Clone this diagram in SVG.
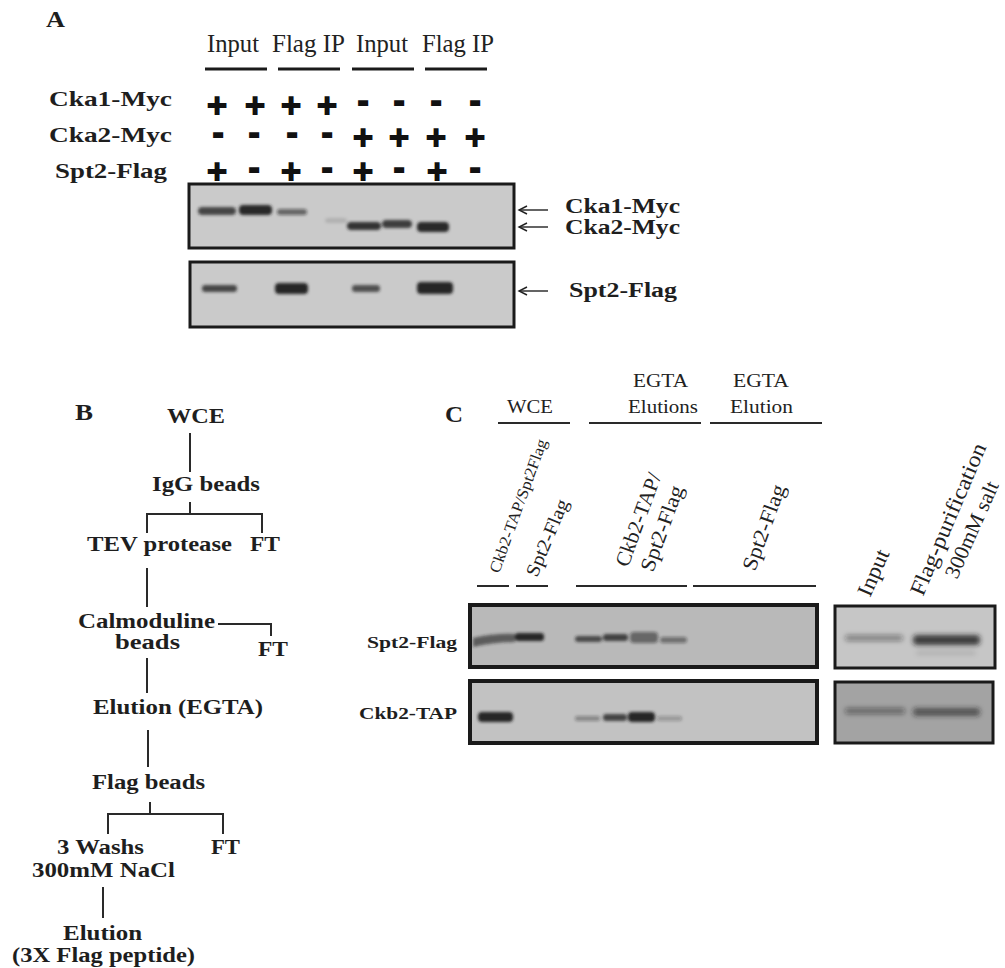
<svg xmlns="http://www.w3.org/2000/svg" width="1005" height="968" viewBox="0 0 1005 968">
<defs>
<style>
.bt{font-family:"Liberation Serif","Times New Roman",serif;font-weight:bold;fill:#1e1e1e}
.rt{font-family:"Liberation Serif","Times New Roman",serif;fill:#222}
.pm{font-family:"DejaVu Sans","Liberation Sans",sans-serif;font-weight:bold;font-size:27px;fill:#111;stroke:#111;stroke-width:1.8;text-anchor:middle}
.ln{stroke:#2a2a2a;stroke-width:2;fill:none}
.ul{stroke:#1a1a1a;stroke-width:3;fill:none}
.box{stroke:#1a1a1a;fill:none}
.band{fill:#1a1a1a}
</style>
<filter id="bl" x="-30%" y="-100%" width="160%" height="300%"><feGaussianBlur stdDeviation="1.6"/></filter>
<filter id="bl2" x="-30%" y="-100%" width="160%" height="300%"><feGaussianBlur stdDeviation="2.6"/></filter>
<marker id="ah" viewBox="-10 -6 12 12" refX="0" refY="0" markerWidth="12" markerHeight="12" markerUnits="userSpaceOnUse" orient="auto">
<path d="M-8,-4 L0,0 L-8,4" fill="none" stroke="#222" stroke-width="1.4"/>
</marker>
</defs>
<rect width="1005" height="968" fill="#ffffff"/>

<!-- PANEL A -->
<g id="panelA">
<text class="bt" x="46" y="27" font-size="24" textLength="19" lengthAdjust="spacingAndGlyphs">A</text>
<g id="A-headers">
<text class="rt" x="207" y="52" font-size="26" textLength="52" lengthAdjust="spacingAndGlyphs">Input</text>
<text class="rt" x="272" y="52" font-size="26" textLength="73" lengthAdjust="spacingAndGlyphs">Flag IP</text>
<text class="rt" x="356" y="52" font-size="26" textLength="52" lengthAdjust="spacingAndGlyphs">Input</text>
<text class="rt" x="422" y="52" font-size="26" textLength="72" lengthAdjust="spacingAndGlyphs">Flag IP</text>
<path class="ul" d="M205,69H267M278,69H340M352,69H414M425,69H487"/>
</g>
<g id="A-rowlabels">
<text class="bt" x="49" y="106" font-size="22" textLength="123" lengthAdjust="spacingAndGlyphs">Cka1-Myc</text>
<text class="bt" x="49" y="142" font-size="22" textLength="123" lengthAdjust="spacingAndGlyphs">Cka2-Myc</text>
<text class="bt" x="55" y="178" font-size="22" textLength="112" lengthAdjust="spacingAndGlyphs">Spt2-Flag</text>
</g>
<g id="A-signs">
<text class="pm" x="217" y="114">+</text><text class="pm" x="255" y="114">+</text><text class="pm" x="291" y="114">+</text><text class="pm" x="327" y="114">+</text>
<text class="pm" x="363" y="110.5">-</text><text class="pm" x="399" y="110.5">-</text><text class="pm" x="436" y="110.5">-</text><text class="pm" x="475" y="110.5">-</text>
<text class="pm" x="218" y="143">-</text><text class="pm" x="254" y="143">-</text><text class="pm" x="292" y="143">-</text><text class="pm" x="327" y="143">-</text>
<text class="pm" x="363" y="146">+</text><text class="pm" x="399" y="146">+</text><text class="pm" x="436" y="146">+</text><text class="pm" x="475" y="146">+</text>
<text class="pm" x="217" y="180">+</text><text class="pm" x="254" y="177.5">-</text><text class="pm" x="291" y="180">+</text><text class="pm" x="327" y="177.5">-</text>
<text class="pm" x="363" y="180">+</text><text class="pm" x="399" y="177.5">-</text><text class="pm" x="437" y="180">+</text><text class="pm" x="475" y="177.5">-</text>
</g>
<g id="A-blot1">
<rect x="189" y="184" width="325" height="64" fill="#cacaca"/>
<g filter="url(#bl)">
<rect class="band" x="198" y="207" width="38" height="8" rx="4" opacity="0.75"/>
<rect class="band" x="239" y="205" width="33" height="10" rx="4" opacity="0.9"/>
<rect class="band" x="277" y="209" width="30" height="6" rx="3" opacity="0.55"/>
<rect class="band" x="325" y="218" width="22" height="5" rx="3" opacity="0.12"/>
<rect class="band" x="347" y="222" width="34" height="8" rx="4" opacity="0.85"/>
<rect class="band" x="382" y="220" width="30" height="8" rx="4" opacity="0.8"/>
<rect class="band" x="417" y="222" width="32" height="10" rx="4" opacity="0.9"/>
</g>
<rect class="box" x="189" y="184" width="325" height="64" stroke-width="3"/>
</g>
<g id="A-blot2">
<rect x="190" y="262" width="324" height="65" fill="#cacaca"/>
<g filter="url(#bl)">
<rect class="band" x="202" y="285" width="35" height="7" rx="3" opacity="0.75"/>
<rect class="band" x="275" y="283" width="33" height="11" rx="4" opacity="0.95"/>
<rect class="band" x="352" y="285" width="28" height="7" rx="3" opacity="0.7"/>
<rect class="band" x="417" y="282" width="36" height="12" rx="4" opacity="0.95"/>
</g>
<rect class="box" x="190" y="262" width="324" height="65" stroke-width="3"/>
</g>
<g id="A-arrows">
<line x1="548" y1="210" x2="519" y2="210" stroke="#222" stroke-width="1.4" marker-end="url(#ah)"/>
<line x1="548" y1="227" x2="519" y2="227" stroke="#222" stroke-width="1.4" marker-end="url(#ah)"/>
<line x1="548" y1="291" x2="519" y2="291" stroke="#222" stroke-width="1.4" marker-end="url(#ah)"/>
<text class="bt" x="565" y="213" font-size="20" textLength="115" lengthAdjust="spacingAndGlyphs">Cka1-Myc</text>
<text class="bt" x="565" y="234" font-size="20" textLength="115" lengthAdjust="spacingAndGlyphs">Cka2-Myc</text>
<text class="bt" x="569" y="297" font-size="20" textLength="108" lengthAdjust="spacingAndGlyphs">Spt2-Flag</text>
</g>
</g>

<!-- PANEL B -->
<g id="panelB">
<text class="bt" x="75" y="420" font-size="24" textLength="18" lengthAdjust="spacingAndGlyphs">B</text>
<g id="connectors">
<path class="ln" d="M190,433V472"/>
<path class="ln" d="M190,502V514M147,533V514H262V533"/>
<path class="ln" d="M147,568V607"/>
<path class="ln" d="M218,624H271V636"/>
<path class="ln" d="M147,658V693"/>
<path class="ln" d="M148,730V767"/>
<path class="ln" d="M150,802V814M108,834V814H223V834"/>
<path class="ln" d="M103,887V918" stroke-width="3"/>
</g>
<g id="n-wce"><text class="bt" x="167" y="423" font-size="20" textLength="58" lengthAdjust="spacingAndGlyphs">WCE</text></g>
<g id="n-igg"><text class="bt" x="152" y="491" font-size="20" textLength="108" lengthAdjust="spacingAndGlyphs">IgG beads</text></g>
<g id="n-tev"><text class="bt" x="87" y="551" font-size="20" textLength="145" lengthAdjust="spacingAndGlyphs">TEV protease</text></g>
<g id="n-ft1"><text class="bt" x="250" y="551" font-size="20" textLength="30" lengthAdjust="spacingAndGlyphs">FT</text></g>
<g id="n-calm">
<text class="bt" x="78" y="628" font-size="20" textLength="137" lengthAdjust="spacingAndGlyphs">Calmoduline</text>
<text class="bt" x="115" y="649" font-size="20" textLength="65" lengthAdjust="spacingAndGlyphs">beads</text>
</g>
<g id="n-ft2"><text class="bt" x="258" y="656" font-size="20" textLength="30" lengthAdjust="spacingAndGlyphs">FT</text></g>
<g id="n-egta"><text class="bt" x="93" y="714" font-size="20" textLength="170" lengthAdjust="spacingAndGlyphs">Elution (EGTA)</text></g>
<g id="n-flag"><text class="bt" x="92" y="789" font-size="20" textLength="113" lengthAdjust="spacingAndGlyphs">Flag beads</text></g>
<g id="n-wash">
<text class="bt" x="57" y="854" font-size="20" textLength="87" lengthAdjust="spacingAndGlyphs">3 Washs</text>
<text class="bt" x="32" y="877" font-size="20" textLength="143" lengthAdjust="spacingAndGlyphs">300mM NaCl</text>
</g>
<g id="n-ft3"><text class="bt" x="211" y="854" font-size="20" textLength="29" lengthAdjust="spacingAndGlyphs">FT</text></g>
<g id="n-elu">
<text class="bt" x="63" y="940" font-size="20" textLength="79" lengthAdjust="spacingAndGlyphs">Elution</text>
<text class="bt" x="12" y="962" font-size="20" textLength="183" lengthAdjust="spacingAndGlyphs">(3X Flag peptide)</text>
</g>
</g>

<!-- PANEL C -->
<g id="panelC">
<text class="bt" x="445" y="422" font-size="24" textLength="18" lengthAdjust="spacingAndGlyphs">C</text>
<g id="C-headers">
<text class="rt" x="507" y="413" font-size="18" textLength="46" lengthAdjust="spacingAndGlyphs">WCE</text>
<text class="rt" x="633" y="387" font-size="18" textLength="55" lengthAdjust="spacingAndGlyphs">EGTA</text>
<text class="rt" x="628" y="413" font-size="18" textLength="70" lengthAdjust="spacingAndGlyphs">Elutions</text>
<text class="rt" x="733" y="387" font-size="18" textLength="56" lengthAdjust="spacingAndGlyphs">EGTA</text>
<text class="rt" x="730" y="413" font-size="18" textLength="63" lengthAdjust="spacingAndGlyphs">Elution</text>
<path class="ln" d="M498,423H570M589,423H701M710,423H822"/>
</g>
<g id="C-lanelabels">
<text class="rt" transform="translate(499,574) rotate(-70)" font-size="16" textLength="141" lengthAdjust="spacingAndGlyphs">Ckb2-TAP/Spt2Flag</text>
<text class="rt" transform="translate(537,578) rotate(-67)" font-size="19" textLength="82" lengthAdjust="spacingAndGlyphs">Spt2-Flag</text>
<text class="rt" transform="translate(628,568) rotate(-70)" font-size="21" textLength="98" lengthAdjust="spacingAndGlyphs">Ckb2-TAP/</text>
<text class="rt" transform="translate(653,573) rotate(-70)" font-size="21" textLength="90" lengthAdjust="spacingAndGlyphs">Spt2-Flag</text>
<text class="rt" transform="translate(755,572) rotate(-70)" font-size="21" textLength="90" lengthAdjust="spacingAndGlyphs">Spt2-Flag</text>
<path class="ln" d="M477,586H509M516,586H548M576,586H687M693,586H816" stroke-width="1.8"/>
</g>
<g id="C-rowlabels">
<text class="bt" x="367" y="648" font-size="17" textLength="90" lengthAdjust="spacingAndGlyphs">Spt2-Flag</text>
<text class="bt" x="359" y="719" font-size="17" textLength="98" lengthAdjust="spacingAndGlyphs">Ckb2-TAP</text>
</g>
<g id="C-blot1">
<rect x="470" y="605" width="347" height="62" fill="#b9b9b9"/>
<g filter="url(#bl)">
<path class="band" d="M473,638 Q495,633 515,634 L515,642 Q495,642 473,647 Z" opacity="0.6"/>
<rect class="band" x="515" y="633" width="29" height="8" rx="3" opacity="0.9"/>
<rect class="band" x="575" y="636" width="27" height="6" rx="3" opacity="0.7"/>
<rect class="band" x="603" y="634" width="25" height="7" rx="3" opacity="0.75"/>
<rect class="band" x="630" y="632" width="28" height="11" rx="4" opacity="0.5"/>
<rect class="band" x="660" y="637" width="27" height="6" rx="3" opacity="0.45"/>
</g>
<rect class="box" x="470" y="605" width="347" height="62" stroke-width="4"/>
</g>
<g id="C-blot2">
<rect x="470" y="681" width="347" height="62" fill="#c2c2c2"/>
<g filter="url(#bl)">
<rect class="band" x="478" y="712" width="35" height="10" rx="4" opacity="0.95"/>
<rect class="band" x="575" y="716" width="25" height="5" rx="2" opacity="0.35"/>
<rect class="band" x="603" y="714" width="24" height="7" rx="3" opacity="0.75"/>
<rect class="band" x="628" y="712" width="27" height="10" rx="4" opacity="0.95"/>
<rect class="band" x="657" y="716" width="25" height="5" rx="2" opacity="0.25"/>
</g>
<rect class="box" x="470" y="681" width="347" height="62" stroke-width="4"/>
</g>
<g id="C-rightlabels">
<text class="rt" transform="translate(870,598) rotate(-66)" font-size="22" textLength="49" lengthAdjust="spacingAndGlyphs">Input</text>
<text class="rt" transform="translate(923,597) rotate(-67)" font-size="22" textLength="163" lengthAdjust="spacingAndGlyphs">Flag-purification</text>
<text class="rt" transform="translate(957,580) rotate(-66)" font-size="21" textLength="104" lengthAdjust="spacingAndGlyphs">300mM salt</text>
</g>
<g id="C-blot3">
<rect x="835" y="606" width="160" height="62" fill="#c6c6c6"/>
<g filter="url(#bl2)">
<rect class="band" x="845" y="635" width="58" height="6" rx="3" opacity="0.4"/>
<rect class="band" x="913" y="635" width="67" height="10" rx="4" opacity="0.8"/>
<rect class="band" x="916" y="651" width="60" height="4" rx="2" opacity="0.12"/>
</g>
<rect class="box" x="835" y="606" width="160" height="62" stroke-width="3"/>
</g>
<g id="C-blot4">
<rect x="835" y="682" width="158" height="61" fill="#a3a3a3"/>
<g filter="url(#bl2)">
<rect class="band" x="845" y="708" width="60" height="6" rx="3" opacity="0.45"/>
<rect class="band" x="913" y="708" width="67" height="8" rx="3" opacity="0.6"/>
</g>
<rect class="box" x="835" y="682" width="158" height="61" stroke-width="3"/>
</g>
</g>
</svg>
